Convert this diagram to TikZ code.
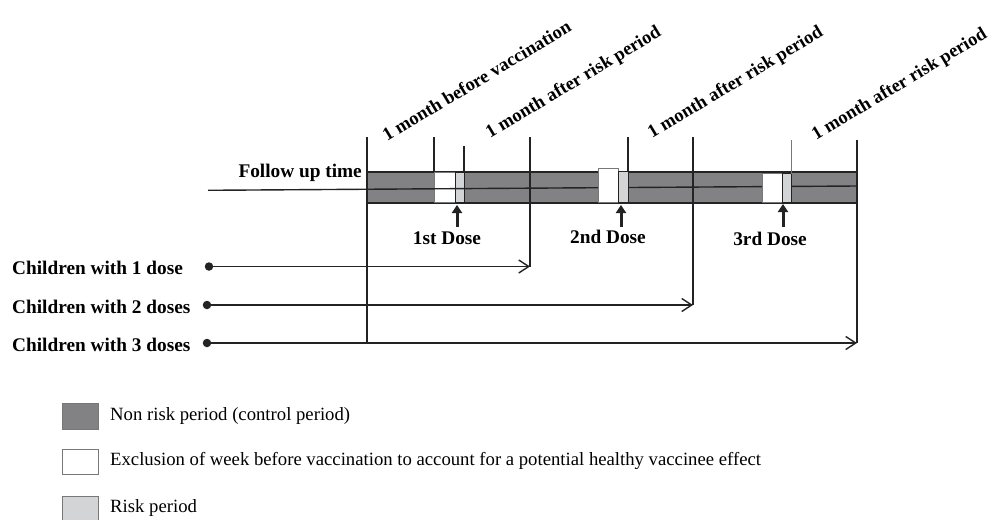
\documentclass[tikz,border=0pt]{standalone}
\usepackage{fontspec}
\setmainfont{Liberation Serif}
\usetikzlibrary{arrows.meta}
\definecolor{nonrisk}{RGB}{130,130,132}
\definecolor{riskc}{RGB}{211,212,214}
\definecolor{edge}{RGB}{35,35,35}
\definecolor{thin}{RGB}{120,120,120}
\begin{document}
\begin{tikzpicture}[x=1pt,y=-1pt,
  lbl/.style={font=\fontsize{19.3}{22}\selectfont\bfseries, inner sep=0},
  rot/.style={font=\fontsize{18.6}{22}\selectfont\bfseries, inner sep=0, rotate=31, anchor=base west},
  leg/.style={font=\fontsize{18.7}{22}\selectfont, inner sep=0, anchor=west},
  vline/.style={draw=edge, line width=1.3pt},
  barbox/.style={fill=nonrisk, draw=edge, line width=2.2pt},
  exclbox/.style={fill=white, draw=thin, line width=0.8pt},
  riskbox/.style={fill=riskc, draw=edge, line width=1pt},
  dosearrow/.style={draw=edge, line width=3pt, -{Triangle[length=8pt,width=10pt]}},
  rowarrow/.style={draw=edge, line width=1.4pt, -{Straight Barb[length=10pt,width=13pt,line width=1.4pt]}},
  dot/.style={circle, fill=edge, inner sep=0, minimum size=8.5pt},
]
\useasboundingbox (0,0) rectangle (995,519);

% main bar
\path[barbox] (367,172) rectangle (857,203);
% first dose window (line passes through)
\path[exclbox] (434,172.5) rectangle (455,202.5);
\path[riskbox] (455,172.5) rectangle (464,202.5);
% follow up line
\coordinate (fstart) at (208,190.3);
\coordinate (fend) at (857,186);
\draw[edge, line width=1.4pt] (fstart) -- (fend);
% second and third dose windows
\path[exclbox] (598,168.5) rectangle (618,202.5);
\path[riskbox] (618,171) rectangle (628,202.5);
\path[exclbox] (762,173.5) rectangle (782,202.5);
\path[riskbox] (782,173.5) rectangle (791,202.5);

% vertical lines
\coordinate (v0t) at (367,137); \coordinate (v0b) at (367,343);
\coordinate (v1t) at (434,137); \coordinate (v1b) at (434,172);
\coordinate (v2t) at (464,146); \coordinate (v2b) at (464,172);
\coordinate (v3t) at (530,137); \coordinate (v3b) at (530,266.5);
\coordinate (v4t) at (628,137); \coordinate (v4b) at (628,171);
\coordinate (v5t) at (693,137); \coordinate (v5b) at (693,305);
\coordinate (v6t) at (791,140); \coordinate (v6b) at (791,173.5);
\coordinate (v7t) at (857,140); \coordinate (v7b) at (857,343);
\draw[vline] (v0t) -- (v0b);
\draw[vline] (v1t) -- (v1b);
\draw[vline] (v2t) -- (v2b);
\draw[vline] (v3t) -- (v3b);
\draw[vline] (v4t) -- (v4b);
\draw[vline] (v5t) -- (v5b);
\draw[draw=thin, line width=0.8pt] (v6t) -- (v6b);
\draw[vline] (v7t) -- (v7b);

% rotated labels
\node[rot] (t1) at (387,142) {1 month before vaccination};
\node[rot] (t2) at (490,139) {1 month after risk period};
\node[rot] (t3) at (652,139) {1 month after risk period};
\node[rot] (t4) at (816,141) {1 month after risk period};

% follow up label
\node[lbl, anchor=base east] (fu) at (362,177) {Follow up time};

% dose arrows and labels
\coordinate (a1s) at (457,227); \coordinate (a1e) at (457,205);
\coordinate (a2s) at (621,227); \coordinate (a2e) at (621,205);
\coordinate (a3s) at (783,227); \coordinate (a3e) at (783,204);
\draw[dosearrow] (a1s) -- (a1e);
\draw[dosearrow] (a2s) -- (a2e);
\draw[dosearrow] (a3s) -- (a3e);
\node[lbl, anchor=base] (d1) at (447,244) {1st Dose};
\node[lbl, anchor=base] (d2) at (608,243) {2nd Dose};
\node[lbl, anchor=base] (d3) at (770,245) {3rd Dose};

% children rows
\node[lbl, anchor=west] (c1) at (12,268) {Children with 1 dose};
\node[lbl, anchor=west] (c2) at (12,306.5) {Children with 2 doses};
\node[lbl, anchor=west] (c3) at (12,344.5) {Children with 3 doses};
\node[dot] (p1) at (209,266.5) {};
\node[dot] (p2) at (207,305) {};
\node[dot] (p3) at (207,343) {};
\coordinate (e1) at (530,266.5);
\coordinate (e2) at (693,305);
\coordinate (e3) at (857,343);
\draw[rowarrow] (p1.center) -- (e1);
\draw[rowarrow] (p2.center) -- (e2);
\draw[rowarrow] (p3.center) -- (e3);

% legend
\node[draw=thin, fill=nonrisk, line width=0.8pt, minimum width=36pt, minimum height=26pt, inner sep=0] (l1) at (80,416) {};
\node[draw=thin, fill=white, line width=0.8pt, minimum width=36pt, minimum height=25pt, inner sep=0] (l2) at (80,461.5) {};
\node[draw=thin, fill=riskc, line width=0.8pt, minimum width=36pt, minimum height=27pt, inner sep=0] (l3) at (80,509.5) {};
\node[leg] (lt1) at (110,416) {Non risk period (control period)};
\node[leg] (lt2) at (110,461) {Exclusion of week before vaccination to account for a potential healthy vaccinee effect};
\node[leg] (lt3) at (110,508) {Risk period};
\end{tikzpicture}
\end{document}
